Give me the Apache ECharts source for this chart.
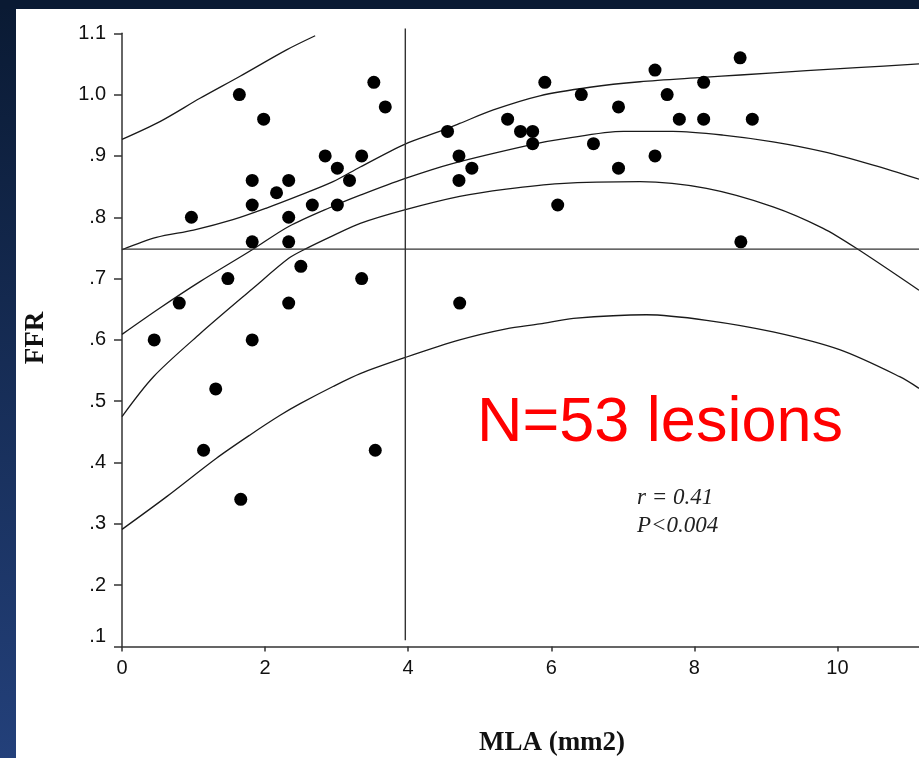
<!DOCTYPE html>
<html>
<head>
<meta charset="utf-8">
<script src="https://cdn.jsdelivr.net/npm/echarts@6.0.0/dist/echarts.min.js"></script>
<style>
  html, body { margin: 0; padding: 0; background: #ffffff; }
  #grafico { width: 919px; height: 758px; }
</style>
</head>
<body>
<div id="grafico"></div>
<script>
// Lesiones: MLA (mm2) vs FFR
const mlaPuntos = [0.45, 0.80, 0.97, 1.48, 1.64, 1.82, 1.82, 1.82, 1.82, 1.98, 2.16, 2.33, 2.33, 2.33, 2.33,
    2.50, 2.66, 2.84, 3.01, 3.01, 3.18, 3.35, 3.35, 3.52, 3.68, 1.31, 1.14, 1.66, 3.54,
    4.55, 4.71, 4.89, 4.71, 4.72, 5.39, 5.57, 5.74, 5.74, 5.91, 6.09, 6.42, 6.59, 6.94, 6.94,
    7.45, 7.45, 7.62, 7.79, 8.13, 8.13, 8.64, 8.65, 8.81];
const ffrPuntos = [0.60, 0.66, 0.80, 0.70, 1.00, 0.86, 0.82, 0.76, 0.60, 0.96, 0.84, 0.86, 0.80, 0.76, 0.66,
    0.72, 0.82, 0.90, 0.88, 0.82, 0.86, 0.90, 0.70, 1.02, 0.98, 0.52, 0.42, 0.34, 0.42,
    0.94, 0.90, 0.88, 0.86, 0.66, 0.96, 0.94, 0.94, 0.92, 1.02, 0.82, 1.00, 0.92, 0.98, 0.88,
    1.04, 0.90, 1.00, 0.96, 1.02, 0.96, 1.06, 0.76, 0.96];

// Curvas (ajuste cuadrático, IC y predicción)
const xPredSup = [0, 0.53, 1.09, 1.65, 2.30, 2.70];
const yPredSup = [0.927, 0.956, 0.994, 1.030, 1.073, 1.096];

const xConfSup = [0, 0.48, 1.00, 1.55, 2.02, 2.49, 2.95, 3.33, 3.95, 4.44, 4.72, 5.19, 5.84, 6.54, 7.24, 8.12, 8.64, 9.57, 10.27, 11.14];
const yConfSup = [0.747, 0.767, 0.779, 0.796, 0.815, 0.836, 0.858, 0.882, 0.919, 0.940, 0.953, 0.975, 0.998, 1.012, 1.021, 1.028, 1.032, 1.039, 1.044, 1.050];

const xAjuste = [0, 0.53, 1.09, 1.82, 2.33, 2.95, 3.33, 3.95, 4.63, 5.74, 6.12, 7.01, 7.70, 8.40, 9.10, 9.80, 10.50, 11.14];
const yAjuste = [0.609, 0.652, 0.695, 0.747, 0.785, 0.818, 0.836, 0.863, 0.888, 0.919, 0.927, 0.940, 0.940, 0.934, 0.923, 0.907, 0.885, 0.862];

const xConfInf = [0, 0.44, 1.09, 1.82, 2.33, 2.56, 2.95, 3.33, 3.95, 4.72, 5.37, 6.12, 7.24, 8.17, 9.10, 9.80, 10.27, 11.14];
const yConfInf = [0.475, 0.540, 0.610, 0.683, 0.733, 0.748, 0.770, 0.790, 0.812, 0.834, 0.846, 0.855, 0.858, 0.847, 0.817, 0.782, 0.749, 0.681];

const xPredInf = [0, 0.62, 1.32, 1.79, 2.21, 2.49, 2.95, 3.33, 3.95, 4.72, 5.37, 5.84, 6.31, 7.33, 8.17, 9.10, 10.03, 10.87, 11.14];
const yPredInf = [0.291, 0.344, 0.407, 0.445, 0.477, 0.496, 0.524, 0.545, 0.571, 0.600, 0.618, 0.626, 0.635, 0.641, 0.632, 0.613, 0.584, 0.540, 0.521];

// Líneas de referencia
const xCorte = [3.96, 3.96];
const yCorte = [1.108, 0.11];
const xUmbral = [0, 11.14];
const yUmbral = [0.748, 0.748];

function pares(xs, ys) {
    return xs.map((x, i) => [x, ys[i]]);
}

function curva(nombre, xs, ys) {
    return {
        name: nombre,
        type: 'line',
        data: pares(xs, ys),
        showSymbol: false,
        smooth: 0.3,
        silent: true,
        lineStyle: { color: '#1a1a1a', width: 1.3 },
        z: 2
    };
}

const grafico = echarts.init(document.getElementById('grafico'), null, { renderer: 'canvas' });

const opciones = {
    backgroundColor: '#ffffff',
    animation: false,
    grid: { left: 122, right: 0, top: 33.3, bottom: 111.5, containLabel: false },
    xAxis: {
        type: 'value',
        min: 0,
        max: 11.14,
        interval: 2,
        splitLine: { show: false },
        axisLine: { show: true, onZero: false, lineStyle: { color: '#333', width: 1.5 } },
        axisTick: { show: true, length: 5, lineStyle: { color: '#333', width: 1.5 } },
        axisLabel: {
            showMaxLabel: false,
            margin: 12,
            color: '#111',
            fontFamily: 'Liberation Sans',
            fontSize: 20,
            formatter: v => (Math.abs(v % 2) < 1e-6 ? String(v) : '')
        }
    },
    yAxis: {
        type: 'value',
        min: 0.1,
        max: 1.1,
        interval: 0.1,
        splitLine: { show: false },
        axisLine: { show: true, onZero: false, lineStyle: { color: '#333', width: 1.5 } },
        axisTick: { show: true, length: 8, lineStyle: { color: '#333', width: 1.5 } },
        axisLabel: {
            margin: 16,
            color: '#111',
            fontFamily: 'Liberation Sans',
            fontSize: 20,
            formatter: v => {
                const k = Math.round(v * 10);
                if (k >= 10) return (k / 10).toFixed(1);
                if (k === 1) return '{bajo|.1}';
                return '.' + k;
            },
            rich: {
                bajo: { color: '#111', fontFamily: 'Liberation Sans', fontSize: 20, padding: [0, 0, 20, 0] }
            }
        }
    },
    series: [
        curva('Predicción sup', xPredSup, yPredSup),
        curva('IC sup', xConfSup, yConfSup),
        curva('Ajuste', xAjuste, yAjuste),
        curva('IC inf', xConfInf, yConfInf),
        curva('Predicción inf', xPredInf, yPredInf),
        {
            name: 'MLA 4',
            type: 'line',
            data: pares(xCorte, yCorte),
            showSymbol: false,
            clip: false,
            silent: true,
            lineStyle: { color: '#333', width: 1.4 },
            z: 2
        },
        {
            name: 'FFR 0.75',
            type: 'line',
            data: pares(xUmbral, yUmbral),
            showSymbol: false,
            silent: true,
            lineStyle: { color: '#333', width: 1.4 },
            z: 2
        },
        {
            name: 'Lesiones',
            type: 'scatter',
            data: pares(mlaPuntos, ffrPuntos),
            symbol: 'circle',
            symbolSize: 13,
            itemStyle: { color: '#000000', opacity: 1 },
            z: 5
        }
    ],
    graphic: [
        // Marco azul oscuro (izquierda y arriba)
        {
            type: 'rect',
            shape: { x: 0, y: 0, width: 16, height: 758 },
            style: {
                fill: new echarts.graphic.LinearGradient(0, 0, 0, 1, [
                    { offset: 0, color: '#0a1a33' },
                    { offset: 1, color: '#23407a' }
                ])
            },
            z: 10
        },
        {
            type: 'rect',
            shape: { x: 0, y: 0, width: 919, height: 9 },
            style: { fill: '#0a1a33' },
            z: 10
        },
        {
            type: 'text',
            x: 36,
            y: 338,
            rotation: Math.PI / 2,
            style: {
                text: 'FFR',
                font: 'bold 27px "Liberation Serif"',
                fill: '#111',
                textAlign: 'center',
                textVerticalAlign: 'middle'
            }
        },
        {
            type: 'text',
            x: 552,
            y: 743,
            style: {
                text: 'MLA (mm2)',
                font: 'bold 27px "Liberation Serif"',
                fill: '#111',
                textAlign: 'center',
                textVerticalAlign: 'middle'
            }
        },
        {
            type: 'text',
            x: 477,
            y: 424,
            style: {
                text: 'N=53 lesions',
                font: '63px "Liberation Sans"',
                fill: '#ff0000',
                textAlign: 'left',
                textVerticalAlign: 'middle'
            }
        },
        {
            type: 'text',
            x: 637,
            y: 498,
            style: {
                text: 'r = 0.41',
                font: 'italic 23px "Liberation Serif"',
                fill: '#222',
                textAlign: 'left',
                textVerticalAlign: 'middle'
            }
        },
        {
            type: 'text',
            x: 637,
            y: 526,
            style: {
                text: 'P<0.004',
                font: 'italic 23px "Liberation Serif"',
                fill: '#222',
                textAlign: 'left',
                textVerticalAlign: 'middle'
            }
        }
    ]
};

grafico.setOption(opciones);
</script>
</body>
</html>
